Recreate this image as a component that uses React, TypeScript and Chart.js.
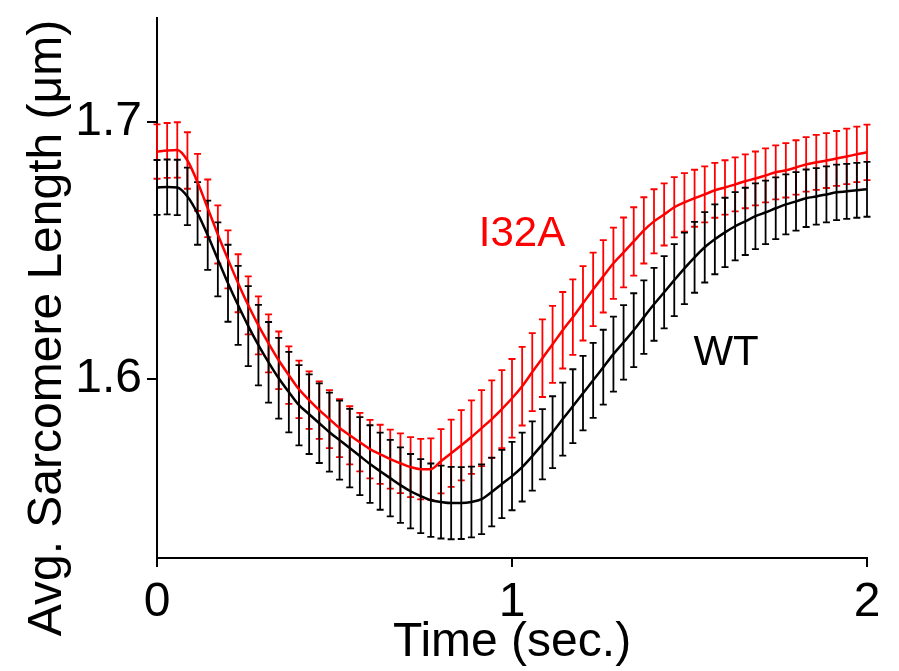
import React, { useEffect, useRef } from "react";
import { Chart, registerables } from "chart.js";

Chart.register(...registerables);

const TIME = [
  0, 0.0286, 0.0571, 0.0857, 0.1143, 0.1429, 0.1714, 0.2, 0.2286, 0.2571,
  0.2857, 0.3143, 0.3429, 0.3714, 0.4, 0.4286, 0.4571, 0.4857, 0.5143, 0.5429,
  0.5714, 0.6, 0.6286, 0.6571, 0.6857, 0.7143, 0.7429, 0.7714, 0.8, 0.8286,
  0.8571, 0.8857, 0.9143, 0.9429, 0.9714, 1.0, 1.0286, 1.0571, 1.0857, 1.1143,
  1.1429, 1.1714, 1.2, 1.2286, 1.2571, 1.2857, 1.3143, 1.3429, 1.3714, 1.4,
  1.4286, 1.4571, 1.4857, 1.5143, 1.5429, 1.5714, 1.6, 1.6286, 1.6571, 1.6857,
  1.7143, 1.7429, 1.7714, 1.8, 1.8286, 1.8571, 1.8857, 1.9143, 1.9429, 1.9714,
  2.0,
];

const WT = [
  1.6744, 1.6746, 1.6744, 1.6709, 1.6643, 1.6558, 1.6464, 1.6371, 1.6285, 1.6204,
  1.613, 1.6063, 1.6001, 1.5947, 1.5896, 1.5861, 1.5826, 1.5791, 1.576, 1.5729,
  1.5698, 1.5667, 1.5639, 1.5612, 1.5585, 1.5561, 1.5542, 1.5526, 1.5519, 1.5515,
  1.5515, 1.5519, 1.553, 1.5558, 1.5589, 1.562, 1.5655, 1.5698, 1.5744, 1.5791,
  1.5842, 1.5892, 1.5943, 1.5993, 1.6044, 1.6095, 1.6141, 1.6188, 1.6239, 1.6289,
  1.6336, 1.6383, 1.6429, 1.6472, 1.6511, 1.6542, 1.6569, 1.6593, 1.6612, 1.6632,
  1.6647, 1.6663, 1.6678, 1.669, 1.6702, 1.6709, 1.6717, 1.6725, 1.6729, 1.6733,
  1.6737,
];

const WT_ERR = [
  0.0107, 0.0107, 0.0108, 0.0112, 0.0122, 0.0135, 0.0144, 0.015, 0.0154, 0.0156,
  0.0157, 0.0157, 0.0157, 0.0157, 0.0156, 0.0155, 0.0155, 0.0154, 0.0154, 0.0153,
  0.0152, 0.0151, 0.015, 0.0149, 0.0147, 0.0145, 0.0144, 0.0143, 0.0142, 0.0141,
  0.014, 0.0138, 0.0136, 0.0134, 0.0133, 0.0133, 0.0134, 0.0135, 0.0137, 0.014,
  0.0142, 0.0144, 0.0145, 0.0146, 0.0146, 0.0146, 0.0145, 0.0144, 0.0143, 0.0142,
  0.0141, 0.014, 0.0139, 0.0138, 0.0137, 0.0136, 0.0135, 0.0133, 0.0131, 0.0128,
  0.0124, 0.012, 0.0117, 0.0114, 0.0112, 0.011, 0.0109, 0.0108, 0.0107, 0.0107,
  0.0107,
];

const I32A = [
  1.6884, 1.6888, 1.689, 1.6849, 1.6764, 1.6663, 1.6561, 1.6464, 1.6371, 1.6285,
  1.6207, 1.6137, 1.6071, 1.6013, 1.5958, 1.5916, 1.5877, 1.5842, 1.5807, 1.5779,
  1.5752, 1.5725, 1.5705, 1.5686, 1.567, 1.5655, 1.5647, 1.5647, 1.5678, 1.5709,
  1.574, 1.5772, 1.5807, 1.5842, 1.5881, 1.5923, 1.597, 1.6025, 1.6079, 1.6133,
  1.6188, 1.6239, 1.6293, 1.6347, 1.6398, 1.6449, 1.6491, 1.6534, 1.6577, 1.6612,
  1.6639, 1.6667, 1.6686, 1.6702, 1.6717, 1.6733, 1.6744, 1.6756, 1.6768, 1.6779,
  1.6791, 1.6803, 1.6811, 1.6822, 1.6834, 1.6842, 1.6849, 1.6857, 1.6865, 1.6873,
  1.6881,
];

const I32A_ERR = [
  0.0106, 0.0107, 0.0108, 0.011, 0.0111, 0.0112, 0.0113, 0.0113, 0.0113, 0.0113,
  0.0113, 0.0113, 0.0112, 0.0112, 0.0112, 0.0112, 0.0112, 0.0113, 0.0113, 0.0113,
  0.0114, 0.0114, 0.0115, 0.0115, 0.0116, 0.0117, 0.0118, 0.012, 0.0125, 0.0131,
  0.0137, 0.0143, 0.0148, 0.0151, 0.0152, 0.0153, 0.0153, 0.0152, 0.0151, 0.015,
  0.0149, 0.0147, 0.0145, 0.0143, 0.0141, 0.0139, 0.0136, 0.0133, 0.0129, 0.0125,
  0.0121, 0.0117, 0.0114, 0.0111, 0.0109, 0.0107, 0.0106, 0.0105, 0.0105, 0.0105,
  0.0105, 0.0105, 0.0106, 0.0106, 0.0106, 0.0107, 0.0107, 0.0107, 0.0108, 0.0108,
  0.0108,
];

const X_TICKS = [0, 1, 2];
const Y_TICKS = [1.6, 1.7];
const X_TITLE = "Time (sec.)";
const Y_TITLE = "Avg. Sarcomere Length (\u03bcm)";
const SERIES_LABELS = [
  { text: "I32A", t: 1.028, v: 1.6561, color: "#ff0000" },
  { text: "WT", t: 1.603, v: 1.6099, color: "#000000" },
];

const FONT = "'Liberation Sans', Arial, Helvetica, sans-serif";

const errorBarsPlugin = {
  id: "errorBars",
  beforeDatasetsDraw(chart: any) {
    const { ctx } = chart;
    const xs = chart.scales.x;
    const ys = chart.scales.y;
    const groups = [
      { vals: I32A, errs: I32A_ERR, color: "#ff0000" },
      { vals: WT, errs: WT_ERR, color: "#000000" },
    ];
    ctx.save();
    ctx.lineWidth = 1.8;
    for (const g of groups) {
      ctx.strokeStyle = g.color;
      ctx.beginPath();
      for (let i = 0; i < TIME.length; i++) {
        const px = xs.getPixelForValue(TIME[i]);
        const top = ys.getPixelForValue(g.vals[i] + g.errs[i]);
        const bot = ys.getPixelForValue(g.vals[i] - g.errs[i]);
        ctx.moveTo(px, top);
        ctx.lineTo(px, bot);
        ctx.moveTo(px - 3.5, top);
        ctx.lineTo(px + 3.5, top);
        ctx.moveTo(px - 3.5, bot);
        ctx.lineTo(px + 3.5, bot);
      }
      ctx.stroke();
    }
    ctx.restore();
  },
  afterDraw(chart: any) {
    const { ctx, chartArea } = chart;
    const xs = chart.scales.x;
    const ys = chart.scales.y;
    ctx.save();
    ctx.fillStyle = "#000";
    ctx.font = `48px ${FONT}`;
    ctx.textAlign = "center";
    ctx.textBaseline = "alphabetic";
    ctx.fillText(X_TITLE, (chartArea.left + chartArea.right) / 2, 656);
    ctx.translate(61, 328);
    ctx.rotate(-Math.PI / 2);
    ctx.fillText(Y_TITLE, 0, 0);
    ctx.restore();

    ctx.save();
    ctx.font = `42px ${FONT}`;
    ctx.textAlign = "center";
    ctx.textBaseline = "middle";
    for (const l of SERIES_LABELS) {
      ctx.fillStyle = l.color;
      ctx.fillText(l.text, xs.getPixelForValue(l.t), ys.getPixelForValue(l.v));
    }
    ctx.restore();
  },
};

export default function App() {
  const ref = useRef<HTMLCanvasElement | null>(null);
  useEffect(() => {
    if (!ref.current) return;
    const chart = new Chart(ref.current, {
      type: "line",
      data: {
        datasets: [
          {
            label: "I32A",
            data: TIME.map((t, i) => ({ x: t, y: I32A[i] })),
            borderColor: "#ff0000",
            borderWidth: 2.5,
            pointRadius: 0,
            cubicInterpolationMode: "monotone",
            fill: false,
          },
          {
            label: "WT",
            data: TIME.map((t, i) => ({ x: t, y: WT[i] })),
            borderColor: "#000000",
            borderWidth: 2.5,
            pointRadius: 0,
            cubicInterpolationMode: "monotone",
            fill: false,
          },
        ],
      },
      options: {
        responsive: false,
        animation: false,
        layout: { padding: { top: 18, right: 32, left: 0, bottom: 0 } },
        plugins: {
          legend: { display: false },
          tooltip: { enabled: false },
          title: { display: false },
        },
        scales: {
          x: {
            type: "linear",
            min: 0,
            max: 2,
            afterBuildTicks: (s: any) => {
              s.ticks = X_TICKS.map((v) => ({ value: v }));
            },
            afterFit: (s: any) => {
              s.height = 113;
              s.paddingLeft = 0;
              s.paddingRight = 0;
            },
            ticks: {
              color: "#000",
              font: { family: FONT, size: 48 },
              padding: 7,
              maxRotation: 0,
              callback: (v: any) => String(v),
            },
            grid: {
              drawOnChartArea: false,
              drawTicks: true,
              tickLength: 9,
              color: "#000",
              lineWidth: 2,
            },
            border: { display: true, color: "#000", width: 2 },
          },
          y: {
            type: "linear",
            min: 1.5301,
            max: 1.7404,
            afterBuildTicks: (s: any) => {
              s.ticks = Y_TICKS.map((v) => ({ value: v }));
            },
            afterFit: (s: any) => {
              s.width = 157;
              s.paddingTop = 0;
              s.paddingBottom = 0;
            },
            ticks: {
              color: "#000",
              font: { family: FONT, size: 48 },
              padding: 5,
              callback: (v: any) => Number(v).toFixed(1),
            },
            grid: {
              drawOnChartArea: false,
              drawTicks: true,
              tickLength: 10,
              color: "#000",
              lineWidth: 2,
            },
            border: { display: true, color: "#000", width: 2 },
          },
        },
      },
      plugins: [errorBarsPlugin],
    } as any);
    return () => chart.destroy();
  }, []);
  return (
    <div style={{ position: "absolute", left: 0, top: 0, width: 899, height: 671, background: "#fff" }}>
      <canvas ref={ref} width={899} height={671} style={{ width: 899, height: 671, display: "block" }} />
    </div>
  );
}
